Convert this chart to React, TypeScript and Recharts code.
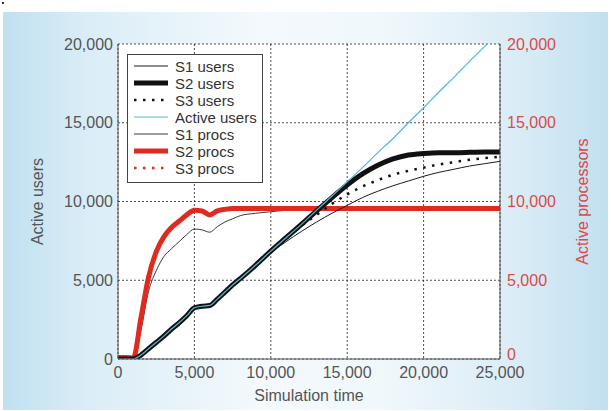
import React from 'react';
import { LineChart, Line, XAxis, YAxis, CartesianGrid, Legend, Label } from 'recharts';

// values (simulation time on x)
const times = [0, 500, 1000, 1500, 2000, 2500, 3000, 3500, 4000, 4500, 5000, 5500, 6000, 6500, 7000, 7500, 8000, 9000, 10000, 11000, 12000, 13000, 14000, 15000, 16000, 17000, 18000, 19000, 20000, 21000, 22000, 23000, 24000, 25000];

const activeUsers = [0, 0, 0, 250, 650, 1050, 1450, 1900, 2300, 2750, 3250, 3350, 3400, 3800, 4250, 4700, 5100, 5950, 6850, 7700, 8550, 9450, 10350, 11250, 12150, 13100, 14000, 15000, 15950, 16950, 17900, 18900, 19850, 20800];
const s1Users = [0, 0, 0, 250, 650, 1050, 1450, 1900, 2300, 2750, 3250, 3350, 3400, 3800, 4250, 4700, 5100, 5950, 6750, 7450, 8100, 8700, 9250, 9750, 10250, 10650, 11000, 11300, 11600, 11850, 12050, 12250, 12400, 12550];
const s2Users = [0, 0, 0, 250, 650, 1050, 1450, 1900, 2300, 2750, 3250, 3350, 3400, 3800, 4250, 4700, 5100, 5950, 6850, 7700, 8550, 9400, 10250, 11050, 11750, 12300, 12700, 12950, 13050, 13100, 13100, 13120, 13150, 13150];
const s3Users = [0, 0, 0, 250, 650, 1050, 1450, 1900, 2300, 2750, 3250, 3350, 3400, 3800, 4250, 4700, 5100, 5950, 6850, 7650, 8450, 9150, 9850, 10450, 10950, 11350, 11700, 11950, 12150, 12350, 12500, 12650, 12750, 12850];

const s1Procs = [0, 0, 0, 1800, 4300, 5600, 6500, 7000, 7450, 7900, 8250, 8200, 8050, 8400, 8700, 8900, 9100, 9250, 9350, 9450, 9500, 9550, 9550, 9550, 9550, 9550, 9550, 9550, 9550, 9550, 9550, 9550, 9550, 9550];
const s2Procs = [100, 100, 50, 2600, 5200, 6800, 7750, 8350, 8750, 9150, 9450, 9400, 9150, 9400, 9500, 9550, 9550, 9550, 9550, 9550, 9550, 9550, 9550, 9550, 9550, 9550, 9550, 9550, 9550, 9550, 9550, 9550, 9550, 9550];
const s3Procs = [0, 0, 0, 2400, 5000, 6700, 7700, 8300, 8700, 9100, 9400, 9350, 9150, 9350, 9500, 9550, 9550, 9550, 9550, 9550, 9550, 9550, 9550, 9550, 9550, 9550, 9550, 9550, 9550, 9550, 9550, 9550, 9550, 9550];

const xTicks = [0, 5000, 10000, 15000, 20000, 25000];
const yTicks = [0, 5000, 10000, 15000, 20000];

const data = times.map((t, i) => ({
  t,
  activeUsers: activeUsers[i],
  s1Users: s1Users[i],
  s2Users: s2Users[i],
  s3Users: s3Users[i],
  s1Procs: s1Procs[i],
  s2Procs: s2Procs[i],
  s3Procs: s3Procs[i],
}));

const RED = '#e0291f';
const RED_TEXT = '#dc4a48';
const GRAY_TEXT = '#555';
const FONT = '"Liberation Sans", Arial, Helvetica, sans-serif';
const DOTS = '2.5 6.5';

// legend order
const SERIES = [
  { key: 's1Users', name: 'S1 users', color: '#1a1a1a', width: 1, dash: undefined, axis: 'left' },
  { key: 's2Users', name: 'S2 users', color: '#111', width: 5, dash: undefined, axis: 'left' },
  { key: 's3Users', name: 'S3 users', color: '#111', width: 2.5, dash: DOTS, axis: 'left' },
  { key: 'activeUsers', name: 'Active users', color: '#5ab4cf', width: 1.2, dash: undefined, axis: 'left' },
  { key: 's1Procs', name: 'S1 procs', color: '#3a3a3a', width: 1, dash: undefined, axis: 'right' },
  { key: 's2Procs', name: 'S2 procs', color: RED, width: 5, dash: undefined, axis: 'right' },
  { key: 's3Procs', name: 'S3 procs', color: RED, width: 2.5, dash: DOTS, axis: 'right' },
];

// paint order, bottom first
const DRAW_ORDER = ['s3Procs', 's1Procs', 's2Procs', 's1Users', 's3Users', 's2Users', 'activeUsers'];

const fmt = (v: number) => v.toLocaleString('en-US');

// right-hand ticks; the 0 sits a touch high so it clears the 25,000 below it
function RightTick({ x, y, payload }: any) {
  const lift = payload.value === 0 ? -5 : 0;
  return (
    <text x={x} y={y + lift} dy="0.355em" textAnchor="start" fill={RED_TEXT} fontSize={16} fontFamily={FONT}>
      {fmt(payload.value)}
    </text>
  );
}

function ChartLegend() {
  return (
    <div
      style={{
        width: 136,
        height: 129,
        boxSizing: 'border-box',
        border: '1px solid #444',
        background: '#fff',
      }}
    >
      <svg width={134} height={127} style={{ display: 'block' }}>
        {SERIES.map((s, i) => {
          const y = 11 + i * 17;
          return (
            <g key={s.key}>
              <line x1={6} x2={40} y1={y} y2={y} stroke={s.color} strokeWidth={s.width} strokeDasharray={s.dash} />
              <text x={47} y={y} dominantBaseline="central" fontSize={15} fill="#333" fontFamily={FONT}>
                {s.name}
              </text>
            </g>
          );
        })}
      </svg>
    </div>
  );
}

export default function App() {
  return (
    <div style={{ position: 'absolute', left: 0, top: 0, width: 611, height: 411, background: '#fff', fontFamily: FONT }}>
      <div style={{ position: 'absolute', left: 2, top: 2, width: 2, height: 2, background: '#333' }} />
      <div
        style={{
          position: 'absolute',
          left: 3,
          top: 12,
          width: 605,
          height: 398,
          background: 'linear-gradient(90deg, #c0e0f0 0%, #daedf7 14%, #f3f9fc 42%, #f1f8fc 62%, #daecf6 85%, #c1e0f0 100%)',
        }}
      />
      <div style={{ position: 'absolute', left: 0, top: 0 }}>
        <LineChart width={611} height={411} data={data} margin={{ top: 44, right: 20, bottom: 4, left: 20 }}>
          <CartesianGrid
            fill="#fff"
            fillOpacity={1}
            stroke="#222"
            strokeWidth={0.8}
            strokeDasharray="2 2"
          />
          <XAxis
            dataKey="t"
            type="number"
            domain={[0, 25000]}
            ticks={xTicks}
            tickFormatter={fmt}
            tickLine={false}
            tickSize={0}
            tickMargin={8}
            height={48}
            axisLine={{ stroke: '#555', strokeWidth: 1 }}
            tick={{ fill: GRAY_TEXT, fontSize: 16, fontFamily: FONT }}
          >
            <Label value="Simulation time" position="insideBottom" offset={6} style={{ fill: GRAY_TEXT, fontSize: 16, fontFamily: FONT }} />
          </XAxis>
          <XAxis
            xAxisId="top"
            dataKey="t"
            type="number"
            orientation="top"
            domain={[0, 25000]}
            ticks={xTicks}
            tick={false}
            tickLine={false}
            height={0}
            axisLine={{ stroke: '#555', strokeWidth: 1 }}
          />
          <YAxis
            domain={[0, 20000]}
            ticks={yTicks}
            allowDataOverflow
            tickFormatter={fmt}
            tickLine={false}
            tickSize={0}
            tickMargin={5}
            width={98}
            axisLine={{ stroke: '#555', strokeWidth: 1 }}
            tick={{ fill: GRAY_TEXT, fontSize: 16, fontFamily: FONT }}
          >
            <Label
              value="Active users"
              angle={-90}
              position="insideLeft"
              offset={17}
              style={{ fill: GRAY_TEXT, fontSize: 16, fontFamily: FONT, textAnchor: 'middle' }}
            />
          </YAxis>
          <YAxis
            yAxisId="right"
            orientation="right"
            domain={[0, 20000]}
            ticks={yTicks}
            allowDataOverflow
            tickLine={false}
            tickSize={0}
            tickMargin={7}
            width={91}
            axisLine={{ stroke: '#555', strokeWidth: 1 }}
            tick={<RightTick />}
          >
            <Label
              value="Active processors"
              angle={-90}
              position="insideRight"
              offset={9}
              style={{ fill: RED_TEXT, fontSize: 16, fontFamily: FONT, textAnchor: 'middle' }}
            />
          </YAxis>
          <Legend
            layout="vertical"
            align="center"
            verticalAlign="middle"
            content={() => <ChartLegend />}
            wrapperStyle={{ left: 127, top: 54, width: 136, height: 129 }}
          />
          {DRAW_ORDER.map((k) => {
            const s = SERIES.find((x) => x.key === k)!;
            return (
              <Line
                key={s.key}
                dataKey={s.key}
                name={s.name}
                yAxisId={s.axis === 'right' ? 'right' : 0}
                type="monotone"
                stroke={s.color}
                strokeWidth={s.width}
                strokeDasharray={s.dash}
                dot={false}
                activeDot={false}
                isAnimationActive={false}
              />
            );
          })}
        </LineChart>
      </div>
    </div>
  );
}
